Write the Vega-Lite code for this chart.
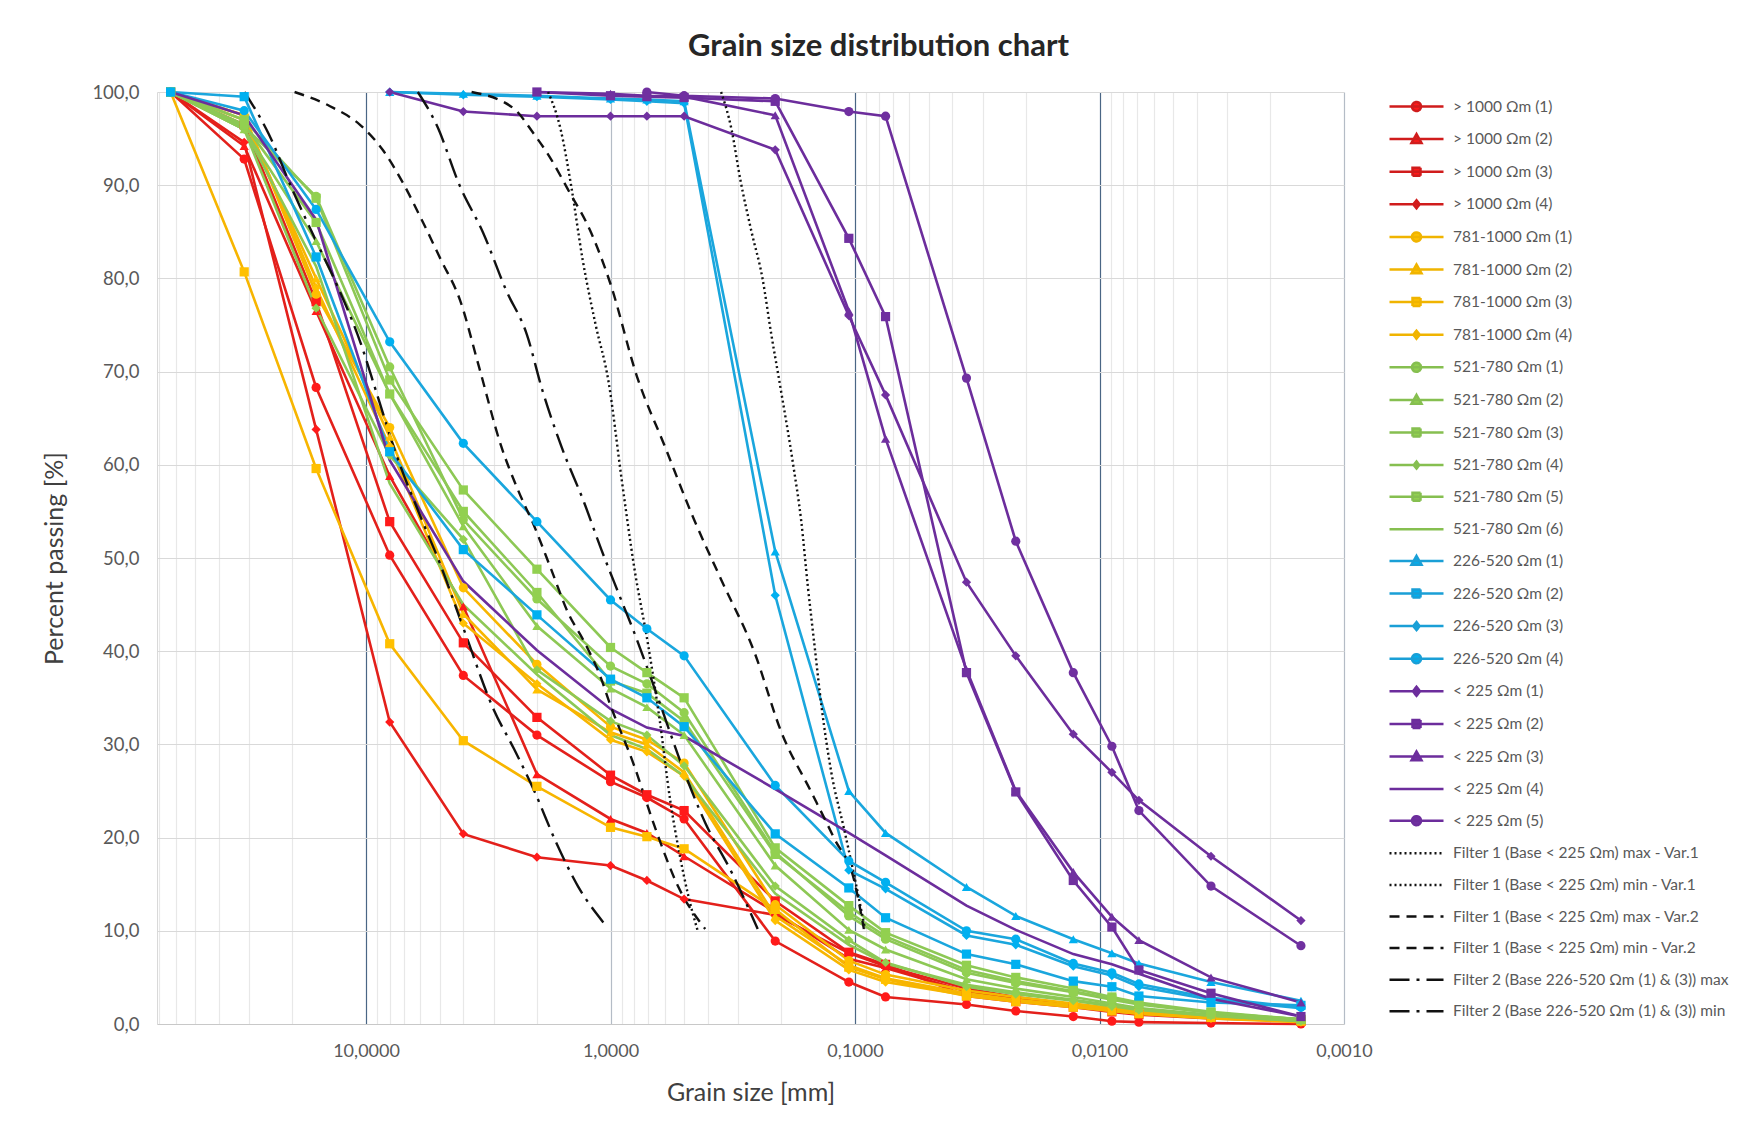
{
  "$schema": "https://vega.github.io/schema/vega-lite/v6.json",
  "width": 1187,
  "height": 932,
  "autosize": "none",
  "padding": {"left": 157, "top": 92, "right": 398, "bottom": 102},
  "background": "white",
  "title": {"text": "Grain size distribution chart", "font": "Lato", "fontSize": 31, "fontWeight": "bold", "color": "#262626", "anchor": "middle", "dx": 128, "offset": 20},
  "config": {
    "view": {"stroke": null},
    "legend": {"orient": "none", "legendX": 1248, "legendY": 3, "direction": "vertical", "symbolSize": 400, "symbolStrokeWidth": 2.5, "symbolOpacity": 1, "rowPadding": 11.6, "labelOffset": 25, "labelFontSize": 15.5, "labelFont": "Lato", "labelColor": "#595959", "symbolLimit": 50, "labelLimit": 400, "padding": 0}
  },
  "data": {"values": [
    {"s": "> 1000 Ωm (1)", "t": "sample", "d": [63,31.5,16,8,4,2,1,0.71,0.5,0.212,0.106,0.075,0.035,0.022,0.0128,0.0089,0.0069,0.0035,0.0015], "p": [100,92.8,68.3,50.3,37.4,31.0,26.0,24.3,22.0,8.9,4.5,2.9,2.1,1.4,0.8,0.3,0.2,0.1,0.0]},
    {"s": "> 1000 Ωm (2)", "t": "sample", "d": [63,31.5,16,8,4,2,1,0.71,0.5,0.212,0.106,0.075,0.035,0.022,0.0128,0.0089,0.0069,0.0035,0.0015], "p": [100,94.2,76.5,58.8,44.8,26.8,22.0,20.5,18.0,12.0,7.0,6.0,3.5,2.8,2.0,1.5,1.2,0.8,0.4]},
    {"s": "> 1000 Ωm (3)", "t": "sample", "d": [63,31.5,16,8,4,2,1,0.71,0.5,0.212,0.106,0.075,0.035,0.022,0.0128,0.0089,0.0069,0.0035,0.0015], "p": [100,96.5,77.5,53.9,40.9,32.9,26.7,24.6,22.9,13.2,7.7,6.4,3.0,2.4,1.8,1.3,1.0,0.6,0.3]},
    {"s": "> 1000 Ωm (4)", "t": "sample", "d": [63,31.5,16,8,4,2,1,0.71,0.5,0.212,0.106,0.075,0.035,0.022,0.0128,0.0089,0.0069,0.0035,0.0015], "p": [100,94.6,63.8,32.4,20.4,17.9,17.0,15.4,13.4,11.7,7.6,6.2,3.8,2.9,2.1,1.6,1.2,0.8,0.5]},
    {"s": "781-1000 Ωm (1)", "t": "sample", "d": [63,31.5,16,8,4,2,1,0.71,0.5,0.212,0.106,0.075,0.035,0.022,0.0128,0.0089,0.0069,0.0035,0.0015], "p": [100,97.5,78.3,64.0,46.8,38.6,31.9,30.5,28.0,12.8,6.8,5.3,3.6,2.9,2.2,1.7,1.3,0.8,0.3]},
    {"s": "781-1000 Ωm (2)", "t": "sample", "d": [63,31.5,16,8,4,2,1,0.71,0.5,0.212,0.106,0.075,0.035,0.022,0.0128,0.0089,0.0069,0.0035,0.0015], "p": [100,97.0,80.0,63.0,44.0,35.9,31.3,30.0,27.0,11.6,6.3,4.9,3.3,2.6,2.0,1.5,1.2,0.7,0.3]},
    {"s": "781-1000 Ωm (3)", "t": "sample", "d": [63,31.5,16,8,4,2,1,0.71,0.5,0.212,0.106,0.075,0.035,0.022,0.0128,0.0089,0.0069,0.0035,0.0015], "p": [100,80.7,59.6,40.8,30.4,25.5,21.1,20.1,18.8,12.3,6.1,4.8,3.0,2.4,1.8,1.4,1.1,0.7,0.3]},
    {"s": "781-1000 Ωm (4)", "t": "sample", "d": [63,31.5,16,8,4,2,1,0.71,0.5,0.212,0.106,0.075,0.035,0.022,0.0128,0.0089,0.0069,0.0035,0.0015], "p": [100,97.5,79.0,62.0,43.0,36.5,30.5,29.2,26.6,11.1,5.8,4.5,3.1,2.5,1.9,1.4,1.1,0.6,0.2]},
    {"s": "521-780 Ωm (1)", "t": "sample", "d": [63,31.5,16,8,4,2,1,0.71,0.5,0.212,0.106,0.075,0.035,0.022,0.0128,0.0089,0.0069,0.0035,0.0015], "p": [100,96.3,88.8,70.5,54.1,45.6,38.4,36.5,33.4,18.4,11.6,9.1,5.5,4.4,3.4,2.6,2.1,1.2,0.5]},
    {"s": "521-780 Ωm (2)", "t": "sample", "d": [63,31.5,16,8,4,2,1,0.71,0.5,0.212,0.106,0.075,0.035,0.022,0.0128,0.0089,0.0069,0.0035,0.0015], "p": [100,96.0,84.0,67.6,53.4,42.7,36.0,34.0,31.0,17.0,10.1,8.0,4.8,3.8,2.9,2.2,1.7,1.0,0.4]},
    {"s": "521-780 Ωm (3)", "t": "sample", "d": [63,31.5,16,8,4,2,1,0.71,0.5,0.212,0.106,0.075,0.035,0.022,0.0128,0.0089,0.0069,0.0035,0.0015], "p": [100,97.0,88.6,69.1,57.3,48.8,40.4,37.7,35.0,18.9,12.7,9.8,6.3,5.0,3.8,2.9,2.3,1.3,0.5]},
    {"s": "521-780 Ωm (4)", "t": "sample", "d": [63,31.5,16,8,4,2,1,0.71,0.5,0.212,0.106,0.075,0.035,0.022,0.0128,0.0089,0.0069,0.0035,0.0015], "p": [100,96.0,76.8,61.0,52.0,38.0,32.5,31.0,27.7,14.8,9.0,6.6,4.0,3.2,2.5,1.9,1.5,0.9,0.3]},
    {"s": "521-780 Ωm (5)", "t": "sample", "d": [63,31.5,16,8,4,2,1,0.71,0.5,0.212,0.106,0.075,0.035,0.022,0.0128,0.0089,0.0069,0.0035,0.0015], "p": [100,96.5,86.0,67.6,55.0,46.3,36.8,35.5,32.5,18.2,12.0,9.4,5.8,4.6,3.5,2.7,2.2,1.2,0.5]},
    {"s": "521-780 Ωm (6)", "t": "sample", "d": [63,31.5,16,8,4,2,1,0.71,0.5,0.212,0.106,0.075,0.035,0.022,0.0128,0.0089,0.0069,0.0035,0.0015], "p": [100,96.0,81.3,58.0,45.0,37.5,31.0,29.5,26.6,14.0,8.5,6.5,4.2,3.4,2.6,2.0,1.6,0.9,0.3]},
    {"s": "226-520 Ωm (1)", "t": "sample", "d": [8,4,2,1,0.71,0.5,0.212,0.106,0.075,0.035,0.022,0.0128,0.0089,0.0069,0.0035,0.0015], "p": [100,99.8,99.6,99.3,99.2,99.0,50.7,25.0,20.5,14.7,11.6,9.1,7.6,6.5,4.5,2.5]},
    {"s": "226-520 Ωm (2)", "t": "sample", "d": [63,31.5,16,8,4,2,1,0.71,0.5,0.212,0.106,0.075,0.035,0.022,0.0128,0.0089,0.0069,0.0035,0.0015], "p": [100,99.5,82.3,61.4,50.9,43.9,37.0,35.0,31.9,20.4,14.6,11.4,7.5,6.4,4.6,4.0,3.0,2.3,2.0]},
    {"s": "226-520 Ωm (3)", "t": "sample", "d": [8,4,2,1,0.71,0.5,0.212,0.106,0.075,0.035,0.022,0.0128,0.0089,0.0069,0.0035,0.0015], "p": [100,99.7,99.5,99.2,99.0,98.8,46.0,16.5,14.5,9.5,8.5,6.2,5.2,4.0,2.6,1.7]},
    {"s": "226-520 Ωm (4)", "t": "sample", "d": [63,31.5,16,8,4,2,1,0.71,0.5,0.212,0.106,0.075,0.035,0.022,0.0128,0.0089,0.0069,0.0035,0.0015], "p": [100,98.0,87.4,73.2,62.3,53.9,45.5,42.4,39.5,25.6,17.5,15.2,10.0,9.1,6.5,5.5,4.3,2.8,1.8]},
    {"s": "< 225 Ωm (1)", "t": "sample", "d": [8,4,2,1,0.71,0.5,0.212,0.106,0.075,0.035,0.022,0.0128,0.0089,0.0069,0.0035,0.0015], "p": [100,97.9,97.4,97.4,97.4,97.4,93.8,76.0,67.5,47.4,39.5,31.1,27.0,24.0,18.0,11.1]},
    {"s": "< 225 Ωm (2)", "t": "sample", "d": [2,1,0.71,0.5,0.212,0.106,0.075,0.035,0.022,0.0128,0.0089,0.0069,0.0035,0.0015], "p": [100,99.6,99.5,99.4,99.0,84.3,75.9,37.7,24.9,15.4,10.4,5.8,3.3,0.8]},
    {"s": "< 225 Ωm (3)", "t": "sample", "d": [2,1,0.71,0.5,0.212,0.106,0.075,0.035,0.022,0.0128,0.0089,0.0069,0.0035,0.0015], "p": [100,99.8,99.6,99.5,97.5,76.5,62.8,38.0,25.0,16.3,11.5,9.0,5.0,2.3]},
    {"s": "< 225 Ωm (4)", "t": "sample", "d": [63,31.5,16,8,4,2,1,0.71,0.5,0.212,0.106,0.075,0.035,0.022,0.0128,0.0089,0.0069,0.0035,0.0015], "p": [100,97.5,86.3,60.5,47.5,40.1,33.8,31.8,30.9,25.2,20.5,18.1,12.7,10.1,7.5,6.4,5.4,2.7,0.8]},
    {"s": "< 225 Ωm (5)", "t": "sample", "d": [0.71,0.5,0.212,0.106,0.075,0.035,0.022,0.0128,0.0089,0.0069,0.0035,0.0015], "p": [100,99.6,99.3,97.9,97.4,69.3,51.8,37.7,29.8,22.9,14.8,8.4]},
    {"s": "Filter 1 (Base < 225 Ωm) max - Var.1", "t": "filter", "d": [1.8,1.6,1.45,1.3,1.15,1.02,0.9,0.8,0.7,0.63,0.57,0.52,0.48,0.44], "p": [100,96,90,82,75,69,58.4,49,40.5,32.7,24,18,13.7,10]},
    {"s": "Filter 1 (Base < 225 Ωm) min - Var.1", "t": "filter", "d": [0.353,0.32,0.295,0.265,0.239,0.22,0.204,0.179,0.166,0.156,0.147,0.137,0.125,0.111,0.1,0.091], "p": [100,96,90.7,85,80,74,69,60,54,47,41,34,27,21,15.5,10.2]},
    {"s": "Filter 1 (Base < 225 Ωm) max - Var.2", "t": "filter", "d": [19.6,14.1,10.5,8.55,7.08,5.92,4.94,4.13,3.45,2.8,2.39,2.05,1.75,1.49,1.28,1.09,1.02,0.8,0.66,0.53,0.41], "p": [100,98.5,96.4,93.8,90.3,86.3,82,77.7,70.5,62,57.3,53.4,48.8,44.1,41,37,34.8,27.7,21.2,14.8,10.2]},
    {"s": "Filter 1 (Base < 225 Ωm) min - Var.2", "t": "filter", "d": [3.7,2.48,2.07,1.78,1.49,1.2,1.0,0.78,0.6,0.455,0.353,0.258,0.2,0.151,0.121,0.101,0.092], "p": [100,98.2,95.6,93.1,89.5,84.9,79.4,69.5,62,54.1,47.7,39.9,31.3,24.9,19.8,15.5,10.2]},
    {"s": "Filter 2 (Base 226-520 Ωm (1) & (3)) max", "t": "filter", "d": [31.4,25,20,16,13,10.5,9,7.5,6,5,4,3.0,2.48,2.05,1.67,1.36,1.07], "p": [100,95.5,89.5,84,79,73,67.5,61,54.5,49.5,42.5,33.7,29.5,25,19.5,14.8,10.9]},
    {"s": "Filter 2 (Base 226-520 Ωm (1) & (3)) min", "t": "filter", "d": [6.14,5.13,4.13,3.32,2.67,2.2,1.9,1.59,1.28,1.09,0.93,0.8,0.63,0.51,0.41,0.32,0.25], "p": [100,96.4,89.9,84.9,78.7,74,68,62,55.9,50.9,46.3,42,34.5,27.7,21.6,16.3,10.2]}
  ]},
  "transform": [{"flatten": ["d", "p"]}],
  "encoding": {
    "x": {"field": "d", "type": "quantitative", "title": "Grain size [mm]",
      "scale": {"type": "log", "domain": [0.001, 71.6], "reverse": true, "nice": false},
      "axis": {
        "values": [0.001,0.002,0.003,0.004,0.005,0.006,0.007,0.008,0.009,0.01,0.02,0.03,0.04,0.05,0.06,0.07,0.08,0.09,0.1,0.2,0.3,0.4,0.5,0.6,0.7,0.8,0.9,1,2,3,4,5,6,7,8,9,10,20,30,40,50,60,70],
        "labelExpr": "(datum.value == 10 || datum.value == 1 || datum.value == 0.1 || datum.value == 0.01 || datum.value == 0.001) ? replace(format(datum.value, '.4f'), '.', ',') : ''",
        "grid": true,
        "gridColor": {"condition": [{"test": "datum.value == 10 || datum.value == 0.1 || datum.value == 0.01", "value": "#4a6685"}, {"test": "datum.value == 1 || datum.value == 0.001", "value": "#b4bcc6"}], "value": "#e8e8e8"},
        "gridWidth": 1.2,
        "ticks": false, "domain": true, "domainColor": "#c8c8c8",
        "labelFontSize": 18, "labelColor": "#595959", "labelFont": "Lato", "labelPadding": 18,
        "labelOverlap": false, "labelFlush": false, "labelBound": false,
        "titleFontSize": 25, "titleFont": "Lato", "titleFontWeight": "normal", "titleColor": "#404040", "titlePadding": 20
      }},
    "y": {"field": "p", "type": "quantitative", "title": "Percent passing [%]",
      "scale": {"domain": [0, 100], "nice": false},
      "axis": {
        "values": [0,10,20,30,40,50,60,70,80,90,100],
        "labelExpr": "replace(format(datum.value, '.1f'), '.', ',')",
        "grid": true, "gridColor": "#d9d9d9", "gridWidth": 1.2,
        "ticks": false, "domain": true, "domainColor": "#d9d9d9",
        "labelFontSize": 18.5, "labelColor": "#595959", "labelFont": "Lato", "labelPadding": 18,
        "titleFontSize": 25, "titleFont": "Lato", "titleFontWeight": "normal", "titleColor": "#404040", "titlePadding": 24
      }}
  },
  "layer": [
    {
      "transform": [{"filter": {"field": "t", "equal": "sample"}}],
      "mark": {"type": "line", "strokeWidth": 2.6},
      "encoding": {
        "color": {"field": "s", "type": "nominal", "legend": null,
          "scale": {"domain": ["> 1000 Ωm (1)","> 1000 Ωm (2)","> 1000 Ωm (3)","> 1000 Ωm (4)","781-1000 Ωm (1)","781-1000 Ωm (2)","781-1000 Ωm (3)","781-1000 Ωm (4)","521-780 Ωm (1)","521-780 Ωm (2)","521-780 Ωm (3)","521-780 Ωm (4)","521-780 Ωm (5)","521-780 Ωm (6)","226-520 Ωm (1)","226-520 Ωm (2)","226-520 Ωm (3)","226-520 Ωm (4)","< 225 Ωm (1)","< 225 Ωm (2)","< 225 Ωm (3)","< 225 Ωm (4)","< 225 Ωm (5)"],
            "range": ["#e3201b","#e3201b","#e3201b","#e3201b","#f7b500","#f7b500","#f7b500","#f7b500","#8dc855","#8dc855","#8dc855","#8dc855","#8dc855","#8dc855","#1aa6dd","#1aa6dd","#1aa6dd","#1aa6dd","#6c2d9c","#6c2d9c","#6c2d9c","#6c2d9c","#6c2d9c"]}}
      }
    },
    {
      "transform": [{"filter": {"field": "t", "equal": "filter"}}],
      "mark": {"type": "line", "strokeWidth": 2.4, "color": "#111111", "interpolate": "monotone"},
      "encoding": {
        "order": {"field": "d", "sort": "descending"},
        "strokeDash": {"field": "s", "type": "nominal", "legend": null,
          "scale": {"domain": ["Filter 1 (Base < 225 Ωm) max - Var.1","Filter 1 (Base < 225 Ωm) min - Var.1","Filter 1 (Base < 225 Ωm) max - Var.2","Filter 1 (Base < 225 Ωm) min - Var.2","Filter 2 (Base 226-520 Ωm (1) & (3)) max","Filter 2 (Base 226-520 Ωm (1) & (3)) min"],
            "range": [[2,3],[2,3],[10,7],[10,7],[20,7,3,7],[20,7,3,7]]}}
      }
    },
    {
      "transform": [{"filter": {"field": "t", "equal": "sample"}}, {"filter": {"not": {"field": "s", "oneOf": ["521-780 Ωm (6)", "< 225 Ωm (4)"]}}}],
      "mark": {"type": "point", "filled": true, "opacity": 1, "size": 85},
      "encoding": {
        "color": {"field": "s", "type": "nominal", "legend": null,
          "scale": {"domain": ["> 1000 Ωm (1)","> 1000 Ωm (2)","> 1000 Ωm (3)","> 1000 Ωm (4)","781-1000 Ωm (1)","781-1000 Ωm (2)","781-1000 Ωm (3)","781-1000 Ωm (4)","521-780 Ωm (1)","521-780 Ωm (2)","521-780 Ωm (3)","521-780 Ωm (4)","521-780 Ωm (5)","226-520 Ωm (1)","226-520 Ωm (2)","226-520 Ωm (3)","226-520 Ωm (4)","< 225 Ωm (1)","< 225 Ωm (2)","< 225 Ωm (3)","< 225 Ωm (5)"],
            "range": ["#ff1a1a","#ff1a1a","#ff1a1a","#ff1a1a","#ffc000","#ffc000","#ffc000","#ffc000","#92d050","#92d050","#92d050","#92d050","#92d050","#00b0f0","#00b0f0","#00b0f0","#00b0f0","#7030a0","#7030a0","#7030a0","#7030a0"]}},
        "shape": {"field": "s", "type": "nominal", "legend": null,
          "scale": {"domain": ["> 1000 Ωm (1)","> 1000 Ωm (2)","> 1000 Ωm (3)","> 1000 Ωm (4)","781-1000 Ωm (1)","781-1000 Ωm (2)","781-1000 Ωm (3)","781-1000 Ωm (4)","521-780 Ωm (1)","521-780 Ωm (2)","521-780 Ωm (3)","521-780 Ωm (4)","521-780 Ωm (5)","226-520 Ωm (1)","226-520 Ωm (2)","226-520 Ωm (3)","226-520 Ωm (4)","< 225 Ωm (1)","< 225 Ωm (2)","< 225 Ωm (3)","< 225 Ωm (5)"],
            "range": ["circle","triangle-up","square","diamond","circle","triangle-up","square","diamond","circle","triangle-up","square","diamond","square","triangle-up","square","diamond","circle","diamond","square","triangle-up","circle"]}}
      }
    },
    {
      "transform": [{"filter": "false"}],
      "mark": {"type": "point", "filled": true, "strokeWidth": 2.5},
      "encoding": {
        "fill": {"field": "s", "type": "nominal", "title": null,
          "scale": {"domain": ["> 1000 Ωm (1)","> 1000 Ωm (2)","> 1000 Ωm (3)","> 1000 Ωm (4)","781-1000 Ωm (1)","781-1000 Ωm (2)","781-1000 Ωm (3)","781-1000 Ωm (4)","521-780 Ωm (1)","521-780 Ωm (2)","521-780 Ωm (3)","521-780 Ωm (4)","521-780 Ωm (5)","521-780 Ωm (6)","226-520 Ωm (1)","226-520 Ωm (2)","226-520 Ωm (3)","226-520 Ωm (4)","< 225 Ωm (1)","< 225 Ωm (2)","< 225 Ωm (3)","< 225 Ωm (4)","< 225 Ωm (5)","Filter 1 (Base < 225 Ωm) max - Var.1","Filter 1 (Base < 225 Ωm) min - Var.1","Filter 1 (Base < 225 Ωm) max - Var.2","Filter 1 (Base < 225 Ωm) min - Var.2","Filter 2 (Base 226-520 Ωm (1) & (3)) max","Filter 2 (Base 226-520 Ωm (1) & (3)) min"],
            "range": ["#ff1a1a","#ff1a1a","#ff1a1a","#ff1a1a","#ffc000","#ffc000","#ffc000","#ffc000","#92d050","#92d050","#92d050","#92d050","#92d050","#92d050","#00b0f0","#00b0f0","#00b0f0","#00b0f0","#7030a0","#7030a0","#7030a0","#7030a0","#7030a0","#111111","#111111","#111111","#111111","#111111","#111111"]}},
        "stroke": {"field": "s", "type": "nominal", "title": null,
          "scale": {"domain": ["> 1000 Ωm (1)","> 1000 Ωm (2)","> 1000 Ωm (3)","> 1000 Ωm (4)","781-1000 Ωm (1)","781-1000 Ωm (2)","781-1000 Ωm (3)","781-1000 Ωm (4)","521-780 Ωm (1)","521-780 Ωm (2)","521-780 Ωm (3)","521-780 Ωm (4)","521-780 Ωm (5)","521-780 Ωm (6)","226-520 Ωm (1)","226-520 Ωm (2)","226-520 Ωm (3)","226-520 Ωm (4)","< 225 Ωm (1)","< 225 Ωm (2)","< 225 Ωm (3)","< 225 Ωm (4)","< 225 Ωm (5)","Filter 1 (Base < 225 Ωm) max - Var.1","Filter 1 (Base < 225 Ωm) min - Var.1","Filter 1 (Base < 225 Ωm) max - Var.2","Filter 1 (Base < 225 Ωm) min - Var.2","Filter 2 (Base 226-520 Ωm (1) & (3)) max","Filter 2 (Base 226-520 Ωm (1) & (3)) min"],
            "range": ["#d01c1c","#d01c1c","#d01c1c","#d01c1c","#f0b400","#f0b400","#f0b400","#f0b400","#86bf50","#86bf50","#86bf50","#86bf50","#86bf50","#86bf50","#1a9fd6","#1a9fd6","#1a9fd6","#1a9fd6","#6c2d9c","#6c2d9c","#6c2d9c","#6c2d9c","#6c2d9c","#111111","#111111","#111111","#111111","#111111","#111111"]}},
        "shape": {"field": "s", "type": "nominal", "title": null,
          "scale": {"domain": ["> 1000 Ωm (1)","> 1000 Ωm (2)","> 1000 Ωm (3)","> 1000 Ωm (4)","781-1000 Ωm (1)","781-1000 Ωm (2)","781-1000 Ωm (3)","781-1000 Ωm (4)","521-780 Ωm (1)","521-780 Ωm (2)","521-780 Ωm (3)","521-780 Ωm (4)","521-780 Ωm (5)","521-780 Ωm (6)","226-520 Ωm (1)","226-520 Ωm (2)","226-520 Ωm (3)","226-520 Ωm (4)","< 225 Ωm (1)","< 225 Ωm (2)","< 225 Ωm (3)","< 225 Ωm (4)","< 225 Ωm (5)","Filter 1 (Base < 225 Ωm) max - Var.1","Filter 1 (Base < 225 Ωm) min - Var.1","Filter 1 (Base < 225 Ωm) max - Var.2","Filter 1 (Base < 225 Ωm) min - Var.2","Filter 2 (Base 226-520 Ωm (1) & (3)) max","Filter 2 (Base 226-520 Ωm (1) & (3)) min"],
            "range": [
              "M-2.7,0H2.7M0.45,0A0.45,0.45,0,1,1,-0.45,0A0.45,0.45,0,1,1,0.45,0Z",
              "M-2.7,0H2.7M0,-0.5L0.5,0.38L-0.5,0.38Z",
              "M-2.7,0H2.7M-0.4,-0.4H0.4V0.4H-0.4Z",
              "M-2.7,0H2.7M0,-0.4L0.32,0L0,0.4L-0.32,0Z",
              "M-2.7,0H2.7M0.45,0A0.45,0.45,0,1,1,-0.45,0A0.45,0.45,0,1,1,0.45,0Z",
              "M-2.7,0H2.7M0,-0.5L0.5,0.38L-0.5,0.38Z",
              "M-2.7,0H2.7M-0.4,-0.4H0.4V0.4H-0.4Z",
              "M-2.7,0H2.7M0,-0.4L0.32,0L0,0.4L-0.32,0Z",
              "M-2.7,0H2.7M0.45,0A0.45,0.45,0,1,1,-0.45,0A0.45,0.45,0,1,1,0.45,0Z",
              "M-2.7,0H2.7M0,-0.5L0.5,0.38L-0.5,0.38Z",
              "M-2.7,0H2.7M-0.4,-0.4H0.4V0.4H-0.4Z",
              "M-2.7,0H2.7M0,-0.35L0.28,0L0,0.35L-0.28,0Z",
              "M-2.7,0H2.7M-0.4,-0.4H0.4V0.4H-0.4Z",
              "M-2.7,0H2.7",
              "M-2.7,0H2.7M0,-0.5L0.5,0.38L-0.5,0.38Z",
              "M-2.7,0H2.7M-0.4,-0.4H0.4V0.4H-0.4Z",
              "M-2.7,0H2.7M0,-0.4L0.32,0L0,0.4L-0.32,0Z",
              "M-2.7,0H2.7M0.45,0A0.45,0.45,0,1,1,-0.45,0A0.45,0.45,0,1,1,0.45,0Z",
              "M-2.7,0H2.7M0,-0.45L0.36,0L0,0.45L-0.36,0Z",
              "M-2.7,0H2.7M-0.4,-0.4H0.4V0.4H-0.4Z",
              "M-2.7,0H2.7M0,-0.5L0.5,0.38L-0.5,0.38Z",
              "M-2.7,0H2.7",
              "M-2.7,0H2.7M0.45,0A0.45,0.45,0,1,1,-0.45,0A0.45,0.45,0,1,1,0.45,0Z",
              "M-2.7,0H2.7","M-2.7,0H2.7","M-2.7,0H2.7","M-2.7,0H2.7","M-2.7,0H2.7","M-2.7,0H2.7"]}},
        "strokeDash": {"field": "s", "type": "nominal", "title": null,
          "scale": {"domain": ["> 1000 Ωm (1)","> 1000 Ωm (2)","> 1000 Ωm (3)","> 1000 Ωm (4)","781-1000 Ωm (1)","781-1000 Ωm (2)","781-1000 Ωm (3)","781-1000 Ωm (4)","521-780 Ωm (1)","521-780 Ωm (2)","521-780 Ωm (3)","521-780 Ωm (4)","521-780 Ωm (5)","521-780 Ωm (6)","226-520 Ωm (1)","226-520 Ωm (2)","226-520 Ωm (3)","226-520 Ωm (4)","< 225 Ωm (1)","< 225 Ωm (2)","< 225 Ωm (3)","< 225 Ωm (4)","< 225 Ωm (5)","Filter 1 (Base < 225 Ωm) max - Var.1","Filter 1 (Base < 225 Ωm) min - Var.1","Filter 1 (Base < 225 Ωm) max - Var.2","Filter 1 (Base < 225 Ωm) min - Var.2","Filter 2 (Base 226-520 Ωm (1) & (3)) max","Filter 2 (Base 226-520 Ωm (1) & (3)) min"],
            "range": [[1,0],[1,0],[1,0],[1,0],[1,0],[1,0],[1,0],[1,0],[1,0],[1,0],[1,0],[1,0],[1,0],[1,0],[1,0],[1,0],[1,0],[1,0],[1,0],[1,0],[1,0],[1,0],[1,0],[2,3],[2,3],[10,7],[10,7],[20,7,3,7],[20,7,3,7]]}}
      }
    }
  ],
  "resolve": {"scale": {"color": "independent", "shape": "independent", "strokeDash": "independent", "fill": "independent", "stroke": "independent"}}
}
